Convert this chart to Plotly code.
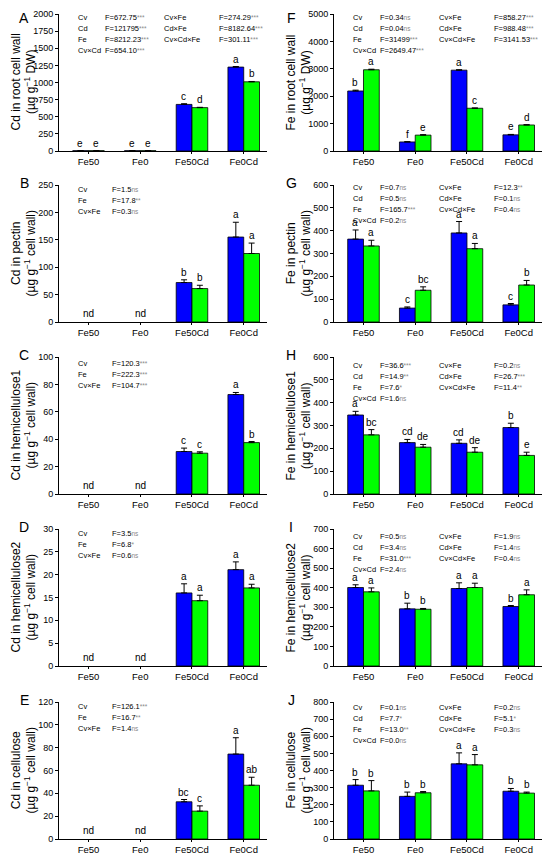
import plotly.graph_objects as go
from plotly.subplots import make_subplots

groups = ["Fe50", "Fe0", "Fe50Cd", "Fe0Cd"]

# panel values (blue = cultivar 1, green = cultivar 2), None = nd
a_blue = [4, 4, 680, 1225]
a_green = [4, 4, 633, 1010]
a_blue_err = [0, 0, 10, 8]
a_green_err = [0, 0, 5, 5]
a_letters = [["e", "e"], ["e", "e"], ["c", "d"], ["a", "b"]]

b_blue = [None, None, 72, 155]
b_green = [None, None, 61, 125]
b_blue_err = [0, 0, 5, 27]
b_green_err = [0, 0, 6, 19]
b_letters = [None, None, ["b", "b"], ["a", "a"]]

c_blue = [None, None, 31, 72.6]
c_green = [None, None, 29.8, 37.5]
c_blue_err = [0, 0, 2.5, 1.5]
c_green_err = [0, 0, 1, 0.8]
c_letters = [None, None, ["c", "c"], ["a", "b"]]

d_blue = [None, None, 16.0, 21.1]
d_green = [None, None, 14.3, 17.1]
d_blue_err = [0, 0, 2.0, 1.7]
d_green_err = [0, 0, 1.2, 0.8]
d_letters = [None, None, ["a", "a"], ["a", "a"]]

e_blue = [None, None, 32.6, 74.4]
e_green = [None, None, 24.4, 47.1]
e_blue_err = [0, 0, 2, 14.3]
e_green_err = [0, 0, 4.6, 7]
e_letters = [None, None, ["bc", "c"], ["a", "ab"]]

f_blue = [2190, 330, 2950, 590]
f_green = [2965, 580, 1560, 950]
f_blue_err = [30, 10, 15, 15]
f_green_err = [20, 15, 10, 10]
f_letters = [["b", "a"], ["f", "e"], ["a", "c"], ["e", "d"]]

g_blue = [363, 61, 390, 75]
g_green = [333, 139, 321, 162]
g_blue_err = [40, 5, 50, 6]
g_green_err = [25, 15, 23, 20]
g_letters = [["a", "a"], ["c", "bc"], ["a", "a"], ["c", "b"]]

h_blue = [346, 225, 222, 291]
h_green = [259, 205, 183, 169]
h_blue_err = [16, 14, 15, 19]
h_green_err = [23, 12, 20, 14]
h_letters = [["a", "bc"], ["cd", "de"], ["cd", "de"], ["b", "e"]]

i_blue = [401, 292, 396, 304]
i_green = [379, 290, 401, 364]
i_blue_err = [14, 29, 29, 5]
i_green_err = [20, 4, 22, 25]
i_letters = [["a", "a"], ["b", "b"], ["a", "a"], ["b", "a"]]

j_blue = [314, 249, 439, 279]
j_green = [281, 270, 433, 268]
j_blue_err = [33, 25, 64, 16]
j_green_err = [60, 7, 60, 6]
j_letters = [["b", "b"], ["b", "b"], ["a", "a"], ["b", "b"]]

# ANOVA texts (F value, significance)
a_stats = [("Cv", "672.75", "***"), ("Cd", "121795", "***"), ("Fe", "8212.23", "***"),
           ("Cv×Cd", "654.10", "***"), ("Cv×Fe", "274.29", "***"),
           ("Cd×Fe", "8182.64", "***"), ("Cv×Cd×Fe", "301.11", "***")]
b_stats = [("Cv", "1.5", "ns"), ("Fe", "17.8", "**"), ("Cv×Fe", "0.3", "ns")]
c_stats = [("Cv", "120.3", "***"), ("Fe", "222.3", "***"), ("Cv×Fe", "104.7", "***")]
d_stats = [("Cv", "3.5", "ns"), ("Fe", "6.8", "*"), ("Cv×Fe", "0.6", "ns")]
e_stats = [("Cv", "126.1", "***"), ("Fe", "16.7", "**"), ("Cv×Fe", "1.4", "ns")]
f_stats = [("Cv", "0.34", "ns"), ("Cd", "0.04", "ns"), ("Fe", "31499", "***"),
           ("Cv×Cd", "2649.47", "***"), ("Cv×Fe", "858.27", "***"),
           ("Cd×Fe", "988.48", "***"), ("Cv×Cd×Fe", "3141.53", "***")]
g_stats = [("Cv", "0.7", "ns"), ("Cd", "0.5", "ns"), ("Fe", "165.7", "***"),
           ("Cv×Cd", "0.2", "ns"), ("Cv×Fe", "12.3", "**"),
           ("Cd×Fe", "0.1", "ns"), ("Cv×Cd×Fe", "0.4", "ns")]
h_stats = [("Cv", "36.6", "***"), ("Cd", "14.9", "**"), ("Fe", "7.6", "*"),
           ("Cv×Cd", "1.6", "ns"), ("Cv×Fe", "0.2", "ns"),
           ("Cd×Fe", "26.7", "***"), ("Cv×Cd×Fe", "11.4", "**")]
i_stats = [("Cv", "0.5", "ns"), ("Cd", "3.4", "ns"), ("Fe", "31.0", "***"),
           ("Cv×Cd", "2.4", "ns"), ("Cv×Fe", "1.9", "ns"),
           ("Cd×Fe", "1.4", "ns"), ("Cv×Cd×Fe", "0.4", "ns")]
j_stats = [("Cv", "0.1", "ns"), ("Cd", "7.7", "*"), ("Fe", "13.0", "**"),
           ("Cv×Cd", "0.0", "ns"), ("Cv×Fe", "0.2", "ns"),
           ("Cd×Fe", "5.1", "*"), ("Cv×Cd×Fe", "0.3", "ns")]

unit_dw = "(µg g<sup>−1</sup> DW)"
unit_cw = "(µg g<sup>−1</sup> cell wall)"

panels = [
    # letter, row, col, title, unit, ymax, dtick, blue, green, berr, gerr, letters, stats, first-row offset
    ("A", 1, 1, "Cd in root cell wall", unit_dw, 2000, 250, a_blue, a_green, a_blue_err, a_green_err, a_letters, a_stats, 3),
    ("B", 2, 1, "Cd in pectin", unit_cw, 250, 50, b_blue, b_green, b_blue_err, b_green_err, b_letters, b_stats, 4),
    ("C", 3, 1, "Cd in hemicellulose1", unit_cw, 100, 20, c_blue, c_green, c_blue_err, c_green_err, c_letters, c_stats, 6),
    ("D", 4, 1, "Cd in hemicellulose2", unit_cw, 30, 5, d_blue, d_green, d_blue_err, d_green_err, d_letters, d_stats, 4),
    ("E", 5, 1, "Cd in cellulose", unit_cw, 120, 20, e_blue, e_green, e_blue_err, e_green_err, e_letters, e_stats, 4),
    ("F", 1, 2, "Fe in root cell wall", unit_dw, 5000, 1000, f_blue, f_green, f_blue_err, f_green_err, f_letters, f_stats, 3),
    ("G", 2, 2, "Fe in pectin", unit_cw, 600, 100, g_blue, g_green, g_blue_err, g_green_err, g_letters, g_stats, 2),
    ("H", 3, 2, "Fe in hemicellulose1", unit_cw, 600, 100, h_blue, h_green, h_blue_err, h_green_err, h_letters, h_stats, 8),
    ("I", 4, 2, "Fe in hemicellulose2", unit_cw, 700, 100, i_blue, i_green, i_blue_err, i_green_err, i_letters, i_stats, 7),
    ("J", 5, 2, "Fe in cellulose", unit_cw, 800, 100, j_blue, j_green, j_blue_err, j_green_err, j_letters, j_stats, 5),
]

# the page body keeps an 8px margin, so the figure is drawn 8px smaller
# and every position below is given in page pixels minus that offset
PAD = 8
W, H = 550 - PAD, 857 - PAD
FONT = "Arial, Liberation Sans, sans-serif"
plot_tops = [14, 185, 357, 529, 702]
plot_h = 137
col_left = [59, 334]
plot_w = 208


def px(x):
    return (x - PAD) / W


def py(y):
    return 1 - (y - PAD) / H


fig = make_subplots(rows=5, cols=2)
annotations = []


def ftext(val, sig):
    return 'F=' + val + '<span style="color:#8a8a8a;font-size:6.5px">' + sig + '</span>'


for (lab, r, c, title, unit, ymax, dtick, blue, green, berr, gerr, letters, stats, off) in panels:
    idx = (r - 1) * 2 + c
    sfx = "" if idx == 1 else str(idx)
    for vals, err, color in [(blue, berr, "#0000FF"), (green, gerr, "#00FF00")]:
        fig.add_trace(go.Bar(
            x=groups, y=vals,
            marker=dict(color=color, line=dict(color="black", width=0.8)),
            error_y=dict(type="data", array=err, symmetric=False,
                         arrayminus=[0] * len(err), color="black",
                         thickness=1, width=3),
            showlegend=False,
        ), row=r, col=c)

    x0 = col_left[c - 1]
    top = plot_tops[r - 1]
    fig.update_xaxes(domain=[px(x0), px(x0 + plot_w)], range=[-0.57, 3.45],
                     automargin=False,
                     showline=True, linecolor="black", linewidth=1,
                     ticks="outside", ticklen=2, tickcolor="black",
                     tickfont=dict(size=9.5, color="black", family=FONT),
                     showgrid=False, row=r, col=c)
    fig.update_yaxes(domain=[py(top + plot_h), py(top)], range=[0, ymax],
                     automargin=False,
                     dtick=dtick, showline=True, linecolor="black", linewidth=1,
                     ticks="outside", ticklen=3, tickcolor="black",
                     tickfont=dict(size=9, color="black", family=FONT),
                     showgrid=False, zeroline=False, row=r, col=c)

    xref = "x" + sfx
    yref = "y" + sfx

    # significance letters / nd
    for k, g in enumerate(groups):
        if letters[k] is None:
            annotations.append(dict(x=g, y=0, xref=xref, yref=yref, text="nd",
                                    showarrow=False, yanchor="bottom", yshift=1,
                                    font=dict(size=10, color="black", family=FONT)))
            continue
        for s, vals, err, shift in [(0, blue, berr, -8), (1, green, gerr, 8)]:
            annotations.append(dict(x=g, y=vals[k] + err[k], xref=xref, yref=yref,
                                    text=letters[k][s], showarrow=False,
                                    yanchor="bottom", yshift=0, xshift=shift,
                                    font=dict(size=10, color="black", family=FONT)))

    # ANOVA table
    if len(stats) == 3:
        cols = [(0.082, 0.245)]
        blocks = [stats]
    else:
        cols = [(0.082, 0.212), (0.495, 0.758)]
        blocks = [stats[:4], stats[4:]]
    for (cx, fx), block in zip(cols, blocks):
        for n, (name, val, sig) in enumerate(block):
            for xx, txt in [(cx, name), (fx, ftext(val, sig))]:
                annotations.append(dict(x=xx, y=1, xref=xref + " domain", yref=yref + " domain",
                                        text=txt, showarrow=False, xanchor="left",
                                        yanchor="middle", yshift=-(off + 11.3 * n),
                                        font=dict(size=7.5, color="black", family=FONT)))

    # y title
    tx = 23 if c == 1 else 298
    annotations.append(dict(x=px(tx), y=0.5, xref="paper", yref=yref + " domain",
                            text=title + "<br>" + unit, showarrow=False, textangle=-90,
                            xanchor="center", yanchor="middle",
                            font=dict(size=12, color="black", family=FONT)))

    # panel letter
    lx = 24 if c == 1 else 291
    if r == 1:
        ly, anchor = PAD, "top"
    else:
        ly, anchor = top - 2, "middle"
    annotations.append(dict(x=px(lx), y=py(ly), xref="paper", yref="paper",
                            text=lab, showarrow=False, xanchor="center", yanchor=anchor,
                            font=dict(size=14, color="black", family=FONT)))

fig.update_layout(
    width=W, height=H,
    margin=dict(l=0, r=0, t=0, b=0),
    barmode="group", bargap=0.39, bargroupgap=0,
    plot_bgcolor="white", paper_bgcolor="white",
    annotations=annotations,
    font=dict(family=FONT, color="black"),
)

fig.write_html("out.html")
